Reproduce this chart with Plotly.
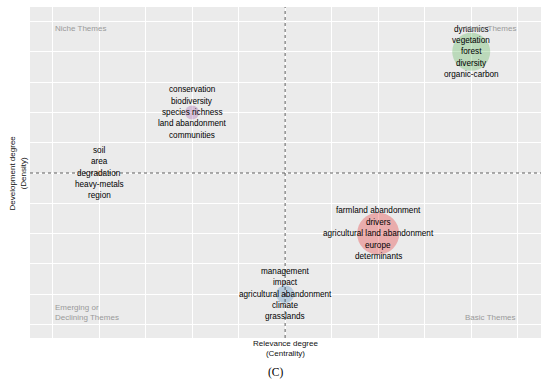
import numpy as np
import plotly.graph_objects as go

# ---- data ----
cluster_names = ["agricultural land abandonment", "agricultural abandonment", "forest",
                 "species richness", "degradation"]
centrality_rank = [4, 3, 5, 2, 1]
density_rank = [2, 1, 5, 4, 3]
frequency = [160, 29, 131, 18, 3]
cluster_words = [
    ["farmland abandonment", "drivers", "agricultural land abandonment", "europe", "determinants"],
    ["management", "impact", "agricultural abandonment", "climate", "grasslands"],
    ["dynamics", "vegetation", "forest", "diversity", "organic-carbon"],
    ["conservation", "biodiversity", "species richness", "land abandonment", "communities"],
    ["soil", "area", "degradation", "heavy-metals", "region"],
]
quadrant_labels = ["Niche Themes", "Motor Themes", "Emerging or<br>Declining Themes", "Basic Themes"]

# ---- style ----
colors = ["#E41A1C", "#377EB8", "#4DAF4A", "#984EA3", "#FF7F00"]
FONT = "Liberation Sans, Arial, sans-serif"
sizes = np.sqrt(np.array(frequency)) * (42 / np.sqrt(160))

fig = go.Figure()
fig.add_trace(go.Scatter(
    x=centrality_rank, y=density_rank, mode="markers",
    marker=dict(size=sizes, color=colors, opacity=0.3, line=dict(width=0)),
    hoverinfo="skip", showlegend=False))

annotations = []
line_gap = 11.4
for cx, cy, words in zip(centrality_rank, density_rank, cluster_words):
    n = len(words)
    for i, w in enumerate(words):
        annotations.append(dict(
            x=cx, y=cy, xref="x", yref="y", text=w, showarrow=False,
            yshift=((n - 1) / 2 - i) * line_gap,
            font=dict(family=FONT, size=8.2, color="#000000"),
            xanchor="center", yanchor="middle"))

gcol = "#9a9a9a"
annotations += [
    dict(x=0.5, y=5.5, xref="x", yref="y", text=quadrant_labels[0], showarrow=False,
         xanchor="left", yanchor="top", font=dict(family=FONT, size=8, color=gcol)),
    dict(x=5.5, y=5.5, xref="x", yref="y", text=quadrant_labels[1], showarrow=False,
         xanchor="right", yanchor="top", font=dict(family=FONT, size=8, color=gcol)),
    dict(x=0.5, y=0.5, xref="x", yref="y", text=quadrant_labels[2], showarrow=False,
         xanchor="left", yanchor="bottom", align="left", font=dict(family=FONT, size=8, color=gcol)),
    dict(x=5.5, y=0.5, xref="x", yref="y", text=quadrant_labels[3], showarrow=False,
         xanchor="right", yanchor="bottom", font=dict(family=FONT, size=8, color=gcol)),
    dict(x=0.5, y=-0.033, xref="paper", yref="paper", text="Relevance degree<br>(Centrality)",
         showarrow=False, xanchor="center", yanchor="middle",
         font=dict(family=FONT, size=8, color="#111111")),
    dict(x=-0.0235, y=0.5, xref="paper", yref="paper", text="Development degree<br>(Density)",
         showarrow=False, xanchor="center", yanchor="middle", textangle=-90,
         font=dict(family=FONT, size=8, color="#111111")),
    dict(x=0.482, y=-0.103, xref="paper", yref="paper", text="(C)", showarrow=False,
         xanchor="center", yanchor="middle",
         font=dict(family="Liberation Serif, Times New Roman, serif", size=11.5, color="#000000")),
]

mx = float(np.mean(centrality_rank))
my = float(np.mean(density_rank))
shapes = [
    dict(type="line", xref="x", yref="paper", x0=mx, x1=mx, y0=0, y1=1,
         line=dict(color="#333333", width=0.8, dash="3px,3px")),
    dict(type="line", xref="paper", yref="y", x0=0, x1=1, y0=my, y1=my,
         line=dict(color="#333333", width=0.8, dash="3px,3px")),
]

axis_common = dict(
    showticklabels=False, ticks="", zeroline=False, showline=False,
    showgrid=True, gridcolor="white", gridwidth=1.4, tick0=0, dtick=1,
    minor=dict(showgrid=True, gridcolor="white", gridwidth=0.7, dtick=0.5, tick0=0.5),
)
fig.update_layout(
    width=550, height=383,
    margin=dict(l=30, r=9, t=7, b=45),
    paper_bgcolor="white", plot_bgcolor="#EBEBEB",
    xaxis=dict(range=[0.258, 5.75], **axis_common),
    yaxis=dict(range=[0.277, 5.74], **axis_common),
    annotations=annotations, shapes=shapes, showlegend=False,
)
fig.write_html("out.html", config={"displayModeBar": False},
               post_script="document.body.style.margin='0';")
